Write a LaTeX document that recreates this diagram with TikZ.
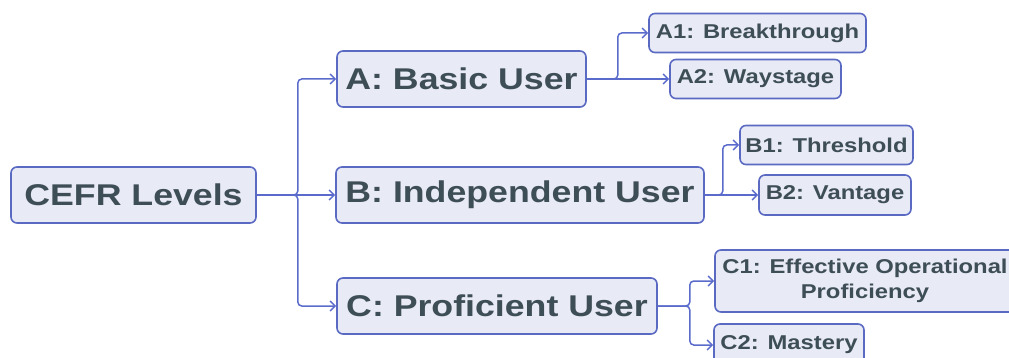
\documentclass[tikz,border=0pt]{standalone}
\usepackage{fontspec}
\setsansfont{Liberation Sans}[FakeStretch=1.19]
\usetikzlibrary{arrows.meta}
\definecolor{boxfill}{HTML}{E8EAF6}
\definecolor{boxline}{HTML}{5A69C2}
\definecolor{linkline}{HTML}{5B6BCC}
\definecolor{labeltext}{HTML}{3E4E57}
\tikzset{
  level/.style={draw=boxline, fill=boxfill, line width=1.6pt, rounded corners=6pt,
    inner sep=0pt, text=labeltext, minimum height=56pt,
    font=\sffamily\bfseries\fontsize{30}{36}\selectfont},
  sublevel/.style={level, minimum height=39pt, align=center,
    font=\sffamily\bfseries\fontsize{20}{25}\selectfont},
  link/.style={draw=linkline, line width=1.5pt, rounded corners=4pt,
    -{Straight Barb[length=5pt,width=10pt]}}
}

\begin{document}
\begin{tikzpicture}[x=1pt,y=-1pt]
  \useasboundingbox (0,0) rectangle (1009,358);
  \clip (0,0) rectangle (1009,358);
  \draw
    (133.5,195) node[level, minimum width=245pt] (cefr){CEFR Levels}
    (461.5,79) node[level, minimum width=249pt] (a){A: Basic User}
    (520,195) node[level, minimum width=368pt] (b){B: Independent User}
    (497,306) node[level, minimum width=320pt] (c){C: Proficient User}
    (757.5,33) node[sublevel, minimum width=217pt] (a1){A1: Breakthrough}
    (755.5,79) node[sublevel, minimum width=171pt] (a2){A2: Waystage}
    (826.5,145) node[sublevel, minimum width=173pt] (b1){B1: Threshold}
    (835,195) node[sublevel, minimum width=152pt, minimum height=40pt] (b2){B2: Vantage}
    (865,281) node[sublevel, minimum width=300pt, minimum height=62pt] (c1){C1: Effective Operational\\Proficiency}
    (789,345) node[sublevel, minimum width=150pt, minimum height=42pt] (c2){C2: Mastery};
  \begin{scope}[link]
    \draw (cefr) to (b);
    \draw (cefr.east) -- ++(41,0) |- (a.west);
    \draw (cefr.east) -- ++(41,0) |- (c.west);
    \draw (a) to (a2);
    \draw (a.east) -- ++(31,0) |- (a1.west);
    \draw (b) to (b2);
    \draw (b.east) -- ++(18,0) |- (b1.west);
    \draw (c.east) -- ++(32,0) |- (c1.west);
    \draw (c.east) -- ++(32,0) |- (c2.west);
  \end{scope}
\end{tikzpicture}
\end{document}
